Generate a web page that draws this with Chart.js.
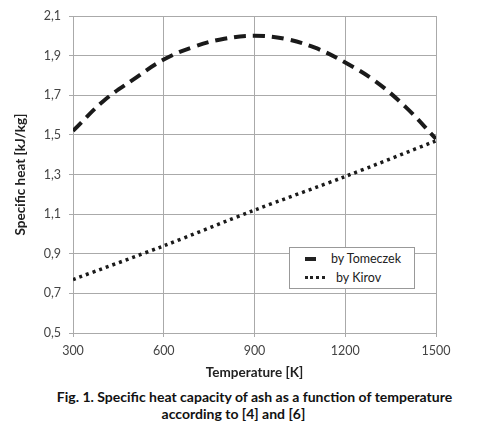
<!DOCTYPE html>
<html>
<head>
<meta charset="utf-8">
<script src="https://cdn.jsdelivr.net/npm/chart.js@4/dist/chart.umd.min.js"></script>
<style>
  body { margin: 0; background: #fff; font-family: Lato, "Open Sans", sans-serif; }
  #wrap { position: relative; width: 483px; height: 432px; }
  #chartBox { position: absolute; left: 0; top: 0; width: 483px; height: 385px; }
  #legend { position: absolute; left: 289px; top: 247px; width: 124px; height: 40px;
    border: 1px solid #999; background: #fff; font-size: 12.5px; color: #222; }
  .row { position: absolute; left: 0; height: 16px; line-height: 16px; }
  .dash { position: absolute; left: 15px; top: 6px; width: 11px; height: 4px; background: #222; }
  .dots { position: absolute; left: 15px; top: 6px; width: 20px; border-top: 3px dotted #222; }
  .cap { position: absolute; width: 483px; text-align: center;
    font-weight: bold; font-size: 14px; line-height: 16px; color: #111; white-space: nowrap; }
</style>
</head>
<body>
<div id="wrap">
  <div id="chartBox"><canvas id="chart"></canvas></div>
  <div id="legend">
    <div class="row" style="top:3px;"><span class="dash"></span><span style="position:absolute;left:41px;white-space:nowrap;">by Tomeczek</span></div>
    <div class="row" style="top:22px;"><span class="dots"></span><span style="position:absolute;left:46px;white-space:nowrap;">by Kirov</span></div>
  </div>
  <div class="cap" style="left:13px; top:389px;">Fig. 1. Specific heat capacity of ash as a function of temperature</div>
  <div class="cap" style="left:-8px; top:406px;">according to [4] and [6]</div>
</div>
<script>
// temperatures [K]
var temps = [300, 400, 500, 600, 700, 800, 900, 1000, 1100, 1200, 1300, 1400, 1500];
// specific heat [kJ/kg]
var tomeczek = [1.52, 1.67, 1.78, 1.88, 1.945, 1.985, 2.0, 1.985, 1.94, 1.865, 1.77, 1.64, 1.48];
var kirovTemps = [300, 600, 900, 1200, 1500];
var kirov = [0.77, 0.94, 1.12, 1.29, 1.47];

function toPoints(xs, ys) {
	var pts = [];
	for (var i = 0; i < xs.length; i++) pts.push({x: xs[i], y: ys[i]});
	return pts;
}

var ctx = document.getElementById("chart").getContext("2d");
var chart = new Chart(ctx, {
	type: "line",
	data: {
		datasets: [
		{
			label: "by Tomeczek",
			data: toPoints(temps, tomeczek),
			borderColor: "#1a1a1a",
			borderWidth: 4,
			borderDash: [12, 7],
			pointRadius: 0,
			tension: 0.4,
			fill: false
		},
		{
			label: "by Kirov",
			data: toPoints(kirovTemps, kirov),
			borderColor: "#1a1a1a",
			borderWidth: 3.5,
			borderDash: [3, 4],
			pointRadius: 0,
			tension: 0.3,
			fill: false
		}
		]
	},
	options: {
		responsive: true,
		maintainAspectRatio: false,
		animation: false,
		layout: { padding: { left: 9, right: 47, top: 16, bottom: 0 } },
		plugins: { legend: { display: false }, tooltip: { enabled: false } },
		scales: {
			x: {
				type: "linear",
				min: 300, max: 1500,
				ticks: { stepSize: 300, color: "#444", font: { family: "Lato", size: 12.5 }, padding: 6,
					callback: function (v) { return String(v); } },
				grid: { color: "#aaa", tickLength: 4 },
				border: { color: "#aaa" },
				title: { display: true, text: "Temperature [K]", color: "#222",
					font: { family: "Lato", size: 13.5, weight: "bold" }, padding: { top: 6 } },
				afterFit: function (scale) { scale.height = 52; }
			},
			y: {
				min: 0.5, max: 2.1,
				ticks: { stepSize: 0.2, color: "#444", font: { family: "Lato", size: 12.5 }, padding: 8,
					callback: function (v) { return v.toFixed(1).replace(".", ","); } },
				grid: { color: "#aaa", tickLength: 4 },
				border: { color: "#aaa" },
				title: { display: true, text: "Specific heat [kJ/kg]", color: "#222",
					font: { family: "Lato", size: 13.5, weight: "bold" }, padding: { bottom: 8 } },
				afterFit: function (scale) { scale.width = 64; }
			}
		}
	}
});
</script>
</body>
</html>
